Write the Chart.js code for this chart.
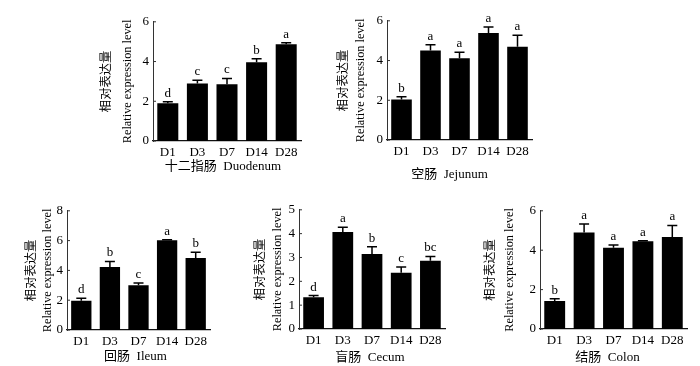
<!DOCTYPE html>
<html>
<head>
<meta charset="utf-8">
<script src="https://cdn.jsdelivr.net/npm/chart.js@4.4.0/dist/chart.umd.min.js"></script>
<style>
  html, body { margin: 0; padding: 0; background: #fff; }
  #wrap { position: relative; width: 700px; height: 366px; overflow: hidden; }
  #wrap canvas { position: absolute; }
</style>
</head>
<body>
<div id="wrap">
  <canvas id="c1"></canvas>
  <canvas id="c2"></canvas>
  <canvas id="c3"></canvas>
  <canvas id="c4"></canvas>
  <canvas id="c5"></canvas>
</div>
<script>
// data
var days = ['D1', 'D3', 'D7', 'D14', 'D28'];

var duodenumMean = [1.90, 2.90, 2.86, 3.97, 4.87];
var duodenumErr  = [0.07, 0.16, 0.29, 0.17, 0.07];
var duodenumSig  = ['d', 'c', 'c', 'b', 'a'];

var jejunumMean = [2.04, 4.50, 4.12, 5.38, 4.69];
var jejunumErr  = [0.14, 0.30, 0.30, 0.31, 0.58];
var jejunumSig  = ['b', 'a', 'a', 'a', 'a'];

var ileumMean = [1.97, 4.22, 3.01, 6.03, 4.84];
var ileumErr  = [0.16, 0.38, 0.14, 0.03, 0.37];
var ileumSig  = ['d', 'b', 'c', 'a', 'b'];

var cecumMean = [1.33, 4.07, 3.15, 2.36, 2.86];
var cecumErr  = [0.07, 0.20, 0.30, 0.24, 0.18];
var cecumSig  = ['d', 'a', 'b', 'c', 'bc'];

var colonMean = [1.42, 4.90, 4.12, 4.46, 4.67];
var colonErr  = [0.12, 0.43, 0.15, 0.02, 0.58];
var colonSig  = ['b', 'a', 'a', 'a', 'a'];

var yTitle = ['相对表达量', 'Relative expression level'];

(function() {
  'use strict';

  var FONT = "'Liberation Serif', 'Noto Sans CJK SC', serif";

  var panels = [
    { id: 'c1', title: '十二指肠  Duodenum', mean: duodenumMean, err: duodenumErr, sig: duodenumSig, max: 6, step: 2 },
    { id: 'c2', title: '空肠  Jejunum',      mean: jejunumMean,  err: jejunumErr,  sig: jejunumSig,  max: 6, step: 2 },
    { id: 'c3', title: '回肠  Ileum',        mean: ileumMean,    err: ileumErr,    sig: ileumSig,    max: 8, step: 2 },
    { id: 'c4', title: '盲肠  Cecum',        mean: cecumMean,    err: cecumErr,    sig: cecumSig,    max: 5, step: 1 },
    { id: 'c5', title: '结肠  Colon',        mean: colonMean,    err: colonErr,    sig: colonSig,    max: 6, step: 2 }
  ];

  // plot area (l,r,t,b), first y-title line x, y-title line height, x-title y and x shift
  var boxes = [
    { l: 153, r: 301, t: 20,  b: 141, yt: 106, ylh: 21, xt: 167, dx: -4 },
    { l: 387, r: 532, t: 19,  b: 140, yt: 343, ylh: 17, xt: 175, dx: -10 },
    { l: 67,  r: 210, t: 209, b: 330, yt: 32,  ylh: 16, xt: 357, dx: -3 },
    { l: 299, r: 445, t: 208, b: 329, yt: 260, ylh: 17, xt: 358, dx: -2 },
    { l: 540, r: 687, t: 209, b: 329, yt: 490, ylh: 19, xt: 358, dx: -6 }
  ];

  // error bars, letters, small inward ticks and the x title
  var errorPlugin = {
    id: 'errorBars',
    afterDatasetsDraw: function(chart) {
      var p = chart.options.plugins.errorBars;
      var ctx = chart.ctx;
      var ys = chart.scales.y;
      var xs = chart.scales.x;
      var meta = chart.getDatasetMeta(0);
      ctx.save();
      ctx.strokeStyle = '#000';
      ctx.fillStyle = '#000';
      ctx.lineWidth = 1.5;
      meta.data.forEach(function(bar, i) {
        var top = ys.getPixelForValue(p.mean[i] + p.err[i]);
        ctx.beginPath();
        ctx.moveTo(bar.x, bar.y);
        ctx.lineTo(bar.x, top);
        ctx.moveTo(bar.x - 5, top);
        ctx.lineTo(bar.x + 5, top);
        ctx.stroke();
        ctx.font = '13px ' + FONT;
        ctx.textAlign = 'center';
        ctx.textBaseline = 'bottom';
        ctx.fillText(p.sig[i], bar.x, top - 2);
      });
      // inward ticks on the y axis
      ctx.lineWidth = 1;
      ctx.strokeStyle = '#333';
      ys.ticks.forEach(function(t) {
        var y = ys.getPixelForValue(t.value);
        ctx.beginPath();
        ctx.moveTo(ys.right, y);
        ctx.lineTo(ys.right + 3, y);
        ctx.stroke();
      });
      // x title
      ctx.font = '13px ' + FONT;
      ctx.textAlign = 'center';
      ctx.textBaseline = 'middle';
      ctx.fillText(p.title, (xs.left + xs.right) / 2 + p.dx, xs.bottom - 8);
      ctx.restore();
    }
  };

  panels.forEach(function(pn, k) {
    var bx = boxes[k];
    var cl = Math.round(bx.yt - bx.ylh / 2);
    var ct = bx.t - 10;
    var cw = bx.r + 6 - cl;
    var ch = Math.round(bx.xt + 8) - ct;
    var yW = bx.l - cl;
    var xH = ct + ch - bx.b;

    var cv = document.getElementById(pn.id);
    cv.width = cw;
    cv.height = ch;
    cv.style.left = cl + 'px';
    cv.style.top = ct + 'px';

    new Chart(cv.getContext('2d'), {
      type: 'bar',
      data: {
        labels: days,
        datasets: [{
          data: pn.mean,
          backgroundColor: '#000',
          borderWidth: 0,
          categoryPercentage: 1,
          barPercentage: 0.71
        }]
      },
      options: {
        responsive: false,
        animation: false,
        devicePixelRatio: 1,
        layout: { padding: { top: 10, right: 6, left: 0, bottom: 0 } },
        plugins: {
          legend: { display: false },
          tooltip: { enabled: false },
          errorBars: { mean: pn.mean, err: pn.err, sig: pn.sig, title: pn.title, dx: bx.dx }
        },
        scales: {
          x: {
            grid: { display: false, drawTicks: false },
            border: { display: true, color: '#111', width: 1.3 },
            ticks: { color: '#000', padding: 4, font: { family: FONT, size: 13 } },
            title: { display: false },
            afterFit: function(s) { s.height = xH; }
          },
          y: {
            min: 0, max: pn.max,
            grid: { display: false, drawTicks: false },
            border: { display: true, color: '#333', width: 1 },
            ticks: { stepSize: pn.step, color: '#000', padding: 4, font: { family: FONT, size: 13 } },
            title: {
              display: true, text: yTitle, color: '#000',
              padding: 0, font: { family: FONT, size: 12.3, lineHeight: bx.ylh / 12.3 }
            },
            afterFit: function(s) { s.width = yW; }
          }
        }
      },
      plugins: [errorPlugin]
    });
  });
})();
</script>
</body>
</html>
